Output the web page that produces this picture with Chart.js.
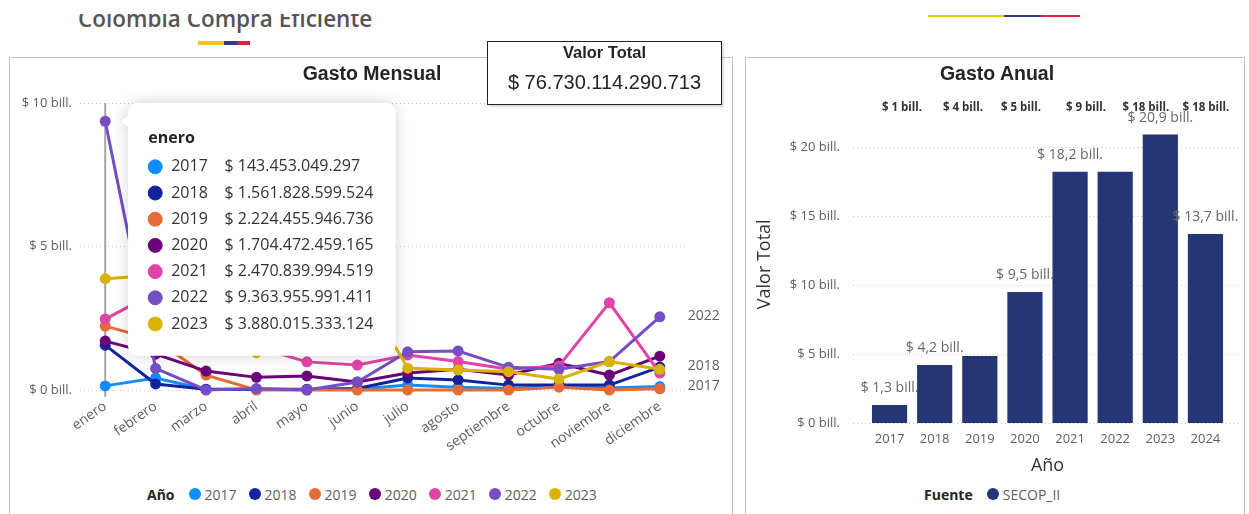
<!DOCTYPE html>
<html>
<head>
<meta charset="utf-8">
<script src="https://cdn.jsdelivr.net/npm/chart.js@4.4.1/dist/chart.umd.min.js"></script>
<style>
  body { margin: 0; width: 1249px; height: 514px; overflow: hidden; background: #fff; position: relative; font-family: "Segoe UI", "Open Sans", sans-serif; }
  .abs { position: absolute; }
  #brand { left: 70px; top: 14px; width: 330px; height: 20px; overflow: hidden; }
  #brand span { position: absolute; left: 8px; top: -6px; font: 600 22.5px/22px "Open Sans", sans-serif; color: #555; white-space: nowrap; }
  .flag { display: flex; }
  .flag div { height: 100%; }
  .panel { border: 1px solid #c4c4c4; background: transparent; box-sizing: border-box; }
  .ptitle { position: absolute; top: 61px; height: 24px; line-height: 24px; font: bold 19.5px/24px "Liberation Sans", Arial, sans-serif; color: #252423; text-align: center; transform: translateX(-50%); white-space: nowrap; z-index: 2; }
  #card { left: 487px; top: 41px; width: 235px; height: 64px; border: 1.5px solid #222; box-sizing: border-box; background: #fff; box-shadow: 2px 2px 2px rgba(0,0,0,0.15); z-index: 5; text-align: center; font-family: "Liberation Sans", Arial, sans-serif; color: #252423; }
  #card .t { position: absolute; left: 0; right: 0; top: 1px; font-weight: bold; font-size: 16.5px; line-height: 18px; }
  #card .v { position: absolute; left: 0; right: 0; top: 28px; font-size: 20px; line-height: 24px; }
  .legend { display: flex; align-items: center; font-size: 14px; color: #605E5C; white-space: nowrap; }
  .legend b { color: #252423; margin-right: 14px; }
  .legend i { display: inline-block; width: 12px; height: 12px; border-radius: 50%; margin-right: 4px; }
  .legend span { margin-right: 12px; }
  .toplbl { position: absolute; top: 99px; font-size: 11.5px; font-weight: bold; color: #333; transform: translateX(-50%); white-space: nowrap; }
</style>
</head>
<body>
<div id="brand" class="abs"><span>Colombia Compra Eficiente</span></div>
<div class="abs flag" style="left:198px; top:41px; width:52px; height:4px;">
  <div style="width:26px; background:#F9C80E;"></div><div style="width:13px; background:#2B3C8C;"></div><div style="width:13px; background:#E1203C;"></div>
</div>
<div class="abs flag" style="left:928px; top:15px; width:152px; height:2px;">
  <div style="width:76px; background:#F9C80E;"></div><div style="width:37px; background:#2B3C8C;"></div><div style="width:39px; background:#E1203C;"></div>
</div>

<div class="abs panel" style="left:9px; top:57px; width:724px; height:480px;"></div>
<div class="abs panel" style="left:745px; top:57px; width:500px; height:480px;"></div>

<canvas id="mensual" class="abs" width="722" height="410" style="left:10px; top:59px;"></canvas>
<canvas id="anual" class="abs" width="498" height="425" style="left:746px; top:59px;"></canvas>

<div class="ptitle" style="left:372px;">Gasto Mensual</div>
<div class="ptitle" style="left:997px;">Gasto Anual</div>

<div id="card" class="abs"><div class="t">Valor Total</div><div class="v">$ 76.730.114.290.713</div></div>

<div id="legMensual" class="abs legend" style="left:147px; top:485px; height:18px;"></div>
<div id="legAnual" class="abs legend" style="left:924px; top:485px; height:18px;"></div>
<div id="topRow"></div>

<script>
// gasto mensual por año (billones de pesos)
const meses = ["enero", "febrero", "marzo", "abril", "mayo", "junio", "julio", "agosto", "septiembre", "octubre", "noviembre", "diciembre"];
const anios = ["2017", "2018", "2019", "2020", "2021", "2022", "2023"];
const coloresAnio = ["#118DFF", "#12239E", "#E66C37", "#6B007B", "#E044A7", "#744EC2", "#D9B300"];
const gasto2017 = [0.143453049297, 0.42, 0.02, 0.02, 0.02, 0.03, 0.17, 0.10, 0.05, 0.12, 0.07, 0.12];
const gasto2018 = [1.561828599524, 0.21, 0.03, 0.03, 0.03, 0.05, 0.42, 0.35, 0.17, 0.17, 0.17, 0.80];
const gasto2019 = [2.224455946736, 1.75, 0.52, 0.0, 0.0, 0.0, 0.0, 0.0, 0.0, 0.10, 0.0, 0.04];
const gasto2020 = [1.704472459165, 1.25, 0.66, 0.44, 0.49, 0.28, 0.59, 0.72, 0.52, 0.93, 0.52, 1.18];
const gasto2021 = [2.470839994519, 3.4, 1.9, 1.5, 0.98, 0.87, 1.22, 0.99, 0.72, 0.84, 3.04, 0.59];
const gasto2022 = [9.363955991411, 0.75, 0.0, 0.05, 0.0, 0.28, 1.33, 1.36, 0.79, 0.72, 0.99, 2.55];
const gasto2023 = [3.880015333124, 4.0, 2.0, 1.3, 1.8, 3.8, 0.76, 0.70, 0.64, 0.38, 0.99, 0.72];
const etiquetasFinales = ["2017", "2018", "2022"];

// gasto anual
const aniosAnual = ["2017", "2018", "2019", "2020", "2021", "2022", "2023", "2024"];
const gastoAnual = [1.3, 4.2, 4.85, 9.5, 18.2, 18.2, 20.9, 13.7];
const etiquetasAnual = [0, 1, 3, 4, 6, 7];
const fuentes = ["SECOP_II"];
const tarjetas = ["$ 1 bill.", "$ 4 bill.", "$ 5 bill.", "$ 9 bill.", "$ 18 bill.", "$ 18 bill."];
const tarjetasX = [902, 963, 1021, 1086, 1146, 1206];

Chart.defaults.font.family = '"Segoe UI", "Open Sans", sans-serif';
Chart.defaults.color = "#605E5C";
Chart.defaults.animation = false;

function pesos(v) {
  const n = Math.round(v * 1e12).toString();
  return "$ " + n.replace(/\B(?=(\d{3})+(?!\d))/g, ".");
}
function bill(v) {
  return "$ " + v + " bill.";
}
function billDec(v) {
  return "$ " + v.toFixed(1).replace(".", ",") + " bill.";
}

Chart.Tooltip.positioners.pbi = function (items) {
  if (!items.length) return false;
  // box left edge a bit right of the hovered point, top at the top of the y scale
  return { x: items[0].element.x + 23 + 10, y: this.chart.scales.y.top };
};

var tooltipShadow = {
  id: "tooltipShadow",
  beforeTooltipDraw(chart, args) {
    var tt = args.tooltip;
    if (!tt.opacity) return;
    var ctx = chart.ctx;
    var py = Math.min.apply(null, tt.dataPoints.map(function (p) { return p.element.y; }));
    ctx.save();
    ctx.shadowColor = "rgba(0,0,0,0.18)";
    ctx.shadowBlur = 16;
    ctx.fillStyle = "#fff";
    ctx.beginPath();
    ctx.roundRect(tt.x, tt.y, tt.width, tt.height, 10);
    ctx.fill();
    ctx.beginPath();
    ctx.moveTo(tt.x + 2, py - 7);
    ctx.lineTo(tt.x - 8, py);
    ctx.lineTo(tt.x + 2, py + 7);
    ctx.closePath();
    ctx.fill();
    ctx.restore();
  },
};

var hoverLine = {
  id: "hoverLine",
  beforeDatasetsDraw(chart) {
    var act = chart.tooltip.getActiveElements();
    if (!act.length) return;
    var x = act[0].element.x;
    var y = chart.scales.y;
    var ctx = chart.ctx;
    ctx.save();
    ctx.strokeStyle = "#a6a6a6";
    ctx.lineWidth = 2;
    ctx.beginPath();
    ctx.moveTo(x, y.top);
    ctx.lineTo(x, y.bottom + 7);
    ctx.stroke();
    ctx.restore();
  },
};

var endLabels = {
  id: "endLabels",
  afterDatasetsDraw(chart) {
    var ctx = chart.ctx;
    ctx.save();
    ctx.font = '14px "Segoe UI", "Open Sans", sans-serif';
    ctx.fillStyle = "#605E5C";
    ctx.textBaseline = "middle";
    chart.data.datasets.forEach(function (ds, i) {
      if (etiquetasFinales.indexOf(ds.label) < 0) return;
      var pts = chart.getDatasetMeta(i).data;
      var p = pts[pts.length - 1];
      ctx.fillText(ds.label, p.x + 28, p.y - 1);
    });
    ctx.restore();
  },
};

var gastoMensual = [gasto2017, gasto2018, gasto2019, gasto2020, gasto2021, gasto2022, gasto2023];

var mensual = new Chart(document.getElementById("mensual"), {
  type: "line",
  data: {
    labels: meses,
    datasets: anios.map(function (a, i) {
      return {
        label: a,
        data: gastoMensual[i],
        borderColor: coloresAnio[i],
        backgroundColor: coloresAnio[i],
        borderWidth: 3,
        pointRadius: 5.5,
        pointHoverRadius: 5.5,
        pointBorderWidth: 0,
        tension: 0,
        clip: false,
        order: anios.length - i,
      };
    }),
  },
  options: {
    responsive: false,
    events: [],
    layout: { padding: { left: 0, right: 47, top: 44, bottom: 0 } },
    plugins: {
      legend: { display: false },
      tooltip: {
        enabled: true,
        mode: "index",
        intersect: false,
        position: "pbi",
        xAlign: "left",
        yAlign: "top",
        backgroundColor: "#ffffff",
        titleColor: "#252423",
        bodyColor: "#333333",
        titleFont: { size: 16, weight: "bold" },
        bodyFont: { size: 16 },
        padding: { top: 26, bottom: 22, left: 20, right: 22 },
        titleMarginBottom: 9,
        bodySpacing: 7,
        cornerRadius: 10,
        caretSize: 0,
        caretPadding: 0,
        borderWidth: 0,
        usePointStyle: true,
        boxWidth: 14,
        boxHeight: 14,
        boxPadding: 7,
        callbacks: {
          title: function (items) { return items[0].label; },
          label: function (c) { return c.dataset.label + "    " + pesos(c.raw); },
          labelColor: function (c) { return { borderColor: c.dataset.borderColor, backgroundColor: c.dataset.borderColor }; },
          labelPointStyle: function () { return { pointStyle: "circle", rotation: 0 }; },
        },
      },
    },
    scales: {
      x: {
        offset: true,
        grid: { display: false, drawTicks: false },
        border: { display: false },
        ticks: { autoSkip: false, minRotation: 35, maxRotation: 35, padding: 8, font: { size: 14 }, color: "#605E5C" },
        afterFit: function (s) { s.height = 79; },
      },
      y: {
        min: 0,
        max: 10,
        ticks: { stepSize: 5, padding: 8, font: { size: 13 }, color: "#605E5C", callback: bill },
        grid: { color: "#c8c8c8", drawTicks: false },
        border: { display: false, dash: [1, 3] },
        afterFit: function (s) { s.width = 70; },
      },
    },
  },
  plugins: [tooltipShadow, hoverLine, endLabels],
});

mensual.tooltip.setActiveElements(
  anios.map(function (a, i) { return { datasetIndex: i, index: 0 }; }),
  { x: 0, y: 0 }
);
mensual.update();

var wideGrid = {
  id: "wideGrid",
  beforeDatasetsDraw(chart) {
    var y = chart.scales.y;
    var ctx = chart.ctx;
    ctx.save();
    ctx.strokeStyle = "#c8c8c8";
    ctx.lineWidth = 1;
    ctx.setLineDash([1, 3]);
    y.ticks.forEach(function (t) {
      var py = Math.round(y.getPixelForValue(t.value)) + 0.5;
      ctx.beginPath();
      ctx.moveTo(y.right - 14, py);
      ctx.lineTo(chart.width - 3, py);
      ctx.stroke();
    });
    ctx.restore();
  },
};

var barLabels = {
  id: "barLabels",
  afterDatasetsDraw(chart) {
    var meta = chart.getDatasetMeta(0);
    var ctx = chart.ctx;
    ctx.save();
    ctx.font = '14px "Segoe UI", "Open Sans", sans-serif';
    ctx.fillStyle = "#666666";
    ctx.textAlign = "center";
    ctx.textBaseline = "middle";
    etiquetasAnual.forEach(function (i) {
      var bar = meta.data[i];
      ctx.fillText(billDec(gastoAnual[i]), bar.x, bar.y - 17);
    });
    ctx.restore();
  },
};

new Chart(document.getElementById("anual"), {
  type: "bar",
  data: {
    labels: aniosAnual,
    datasets: [
      {
        label: fuentes[0],
        data: gastoAnual,
        backgroundColor: "#243673",
        barPercentage: 0.78,
        categoryPercentage: 1,
      },
    ],
  },
  options: {
    responsive: false,
    events: [],
    layout: { padding: { left: 0, right: 16, top: 46.6, bottom: 4 } },
    plugins: {
      legend: { display: false },
      tooltip: { enabled: false },
    },
    scales: {
      x: {
        grid: { display: false, drawTicks: false },
        border: { display: false },
        ticks: { padding: 8, font: { size: 13 }, color: "#605E5C" },
        title: { display: true, text: "Año", color: "#333333", font: { size: 18 }, padding: { top: 0, bottom: 3 } },
        afterFit: function (s) { s.height = 57; },
      },
      y: {
        min: 0,
        max: 23,
        ticks: { stepSize: 5, includeBounds: false, padding: 27, font: { size: 13 }, color: "#605E5C", callback: bill },
        grid: { display: false, drawTicks: false },
        border: { display: false },
        title: { display: true, text: "Valor Total", color: "#333333", font: { size: 18 }, padding: { top: 8, bottom: 0 } },
        afterFit: function (s) { s.width = 121; },
      },
    },
  },
  plugins: [wideGrid, barLabels],
});

// legends
var legM = document.getElementById("legMensual");
legM.innerHTML = "<b>Año</b>" + anios.map(function (a, i) {
  return '<i style="background:' + coloresAnio[i] + '"></i><span>' + a + "</span>";
}).join("");
var legA = document.getElementById("legAnual");
legA.innerHTML = "<b>Fuente</b>" + fuentes.map(function (f) {
  return '<i style="background:#243673"></i><span>' + f + "</span>";
}).join("");

var topRow = document.getElementById("topRow");
topRow.innerHTML = tarjetas.map(function (t, i) {
  return '<div class="toplbl" style="left:' + tarjetasX[i] + 'px">' + t + "</div>";
}).join("");
</script>
</body>
</html>
